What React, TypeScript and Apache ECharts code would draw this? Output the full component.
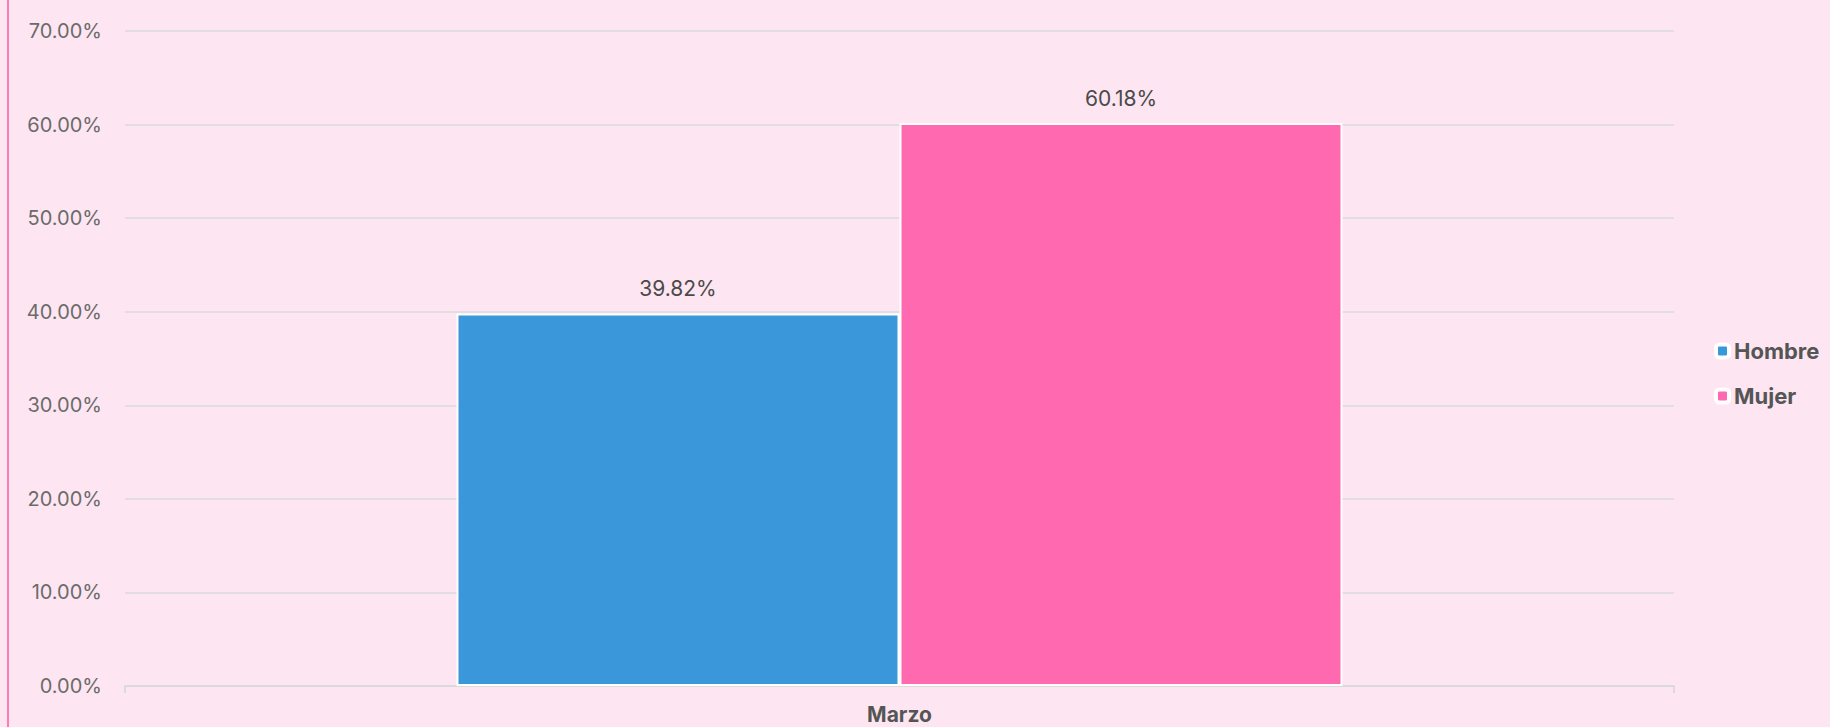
import React, { useEffect, useRef } from "react";
import * as echarts from "echarts";

const categories = ["Marzo"];
const seriesNames = ["Hombre", "Mujer"];
const hombreValues = [39.82];
const mujerValues = [60.18];
const seriesColors = ["#3a98da", "#ff69af"];
const yMin = 0;
const yMax = 70;
const yInterval = 10;

export default function App() {
  const ref = useRef<HTMLDivElement>(null);
  useEffect(() => {
    document.body.style.margin = "0";
    document.body.style.background = "#fde6f1";
    const chart = echarts.init(ref.current!, null, { renderer: "svg" });
    const font = "Inter, 'Noto Sans', sans-serif";
    const values = [hombreValues, mujerValues];
    chart.setOption({
      animation: false,
      backgroundColor: "transparent",
      grid: { left: 125, right: 156, top: 31, bottom: 41, containLabel: false },
      legend: {
        orient: "vertical",
        left: 1714,
        top: 340,
        padding: 0,
        itemGap: 23,
        itemWidth: 13,
        itemHeight: 13,
        icon: "roundRect",
        itemStyle: { borderColor: "#ffffff", borderWidth: 4 },
        textStyle: { color: "#555555", fontSize: 22, fontWeight: "bold", fontFamily: font },
        data: seriesNames,
      },
      xAxis: {
        type: "category",
        data: categories,
        axisLine: { show: true, lineStyle: { color: "#dadada", width: 2 } },
        axisTick: { show: true, length: 7, lineStyle: { color: "#dadada", width: 2 } },
        axisLabel: { color: "#555555", fontSize: 21, fontWeight: "bold", fontFamily: font, margin: 18 },
      },
      yAxis: {
        type: "value",
        min: yMin,
        max: yMax,
        interval: yInterval,
        axisLine: { show: false },
        axisTick: { show: false },
        splitLine: { lineStyle: { color: "#d9d9de", width: 1.5 } },
        axisLabel: {
          color: "#6b6b6b",
          fontSize: 20,
          fontFamily: font,
          margin: 23,
          formatter: (v: number) => v.toFixed(2) + "%",
        },
      },
      series: seriesNames.map((name, i) => ({
        name,
        type: "bar",
        data: values[i],
        barGap: "0%",
        barCategoryGap: "42.8%",
        itemStyle: { color: seriesColors[i], borderColor: "#ffffff", borderWidth: 2 },
        label: {
          show: true,
          position: "top",
          distance: 14,
          color: "#4a4a4a",
          fontSize: 21,
          fontFamily: font,
          formatter: (p: any) => Number(p.value).toFixed(2) + "%",
        },
      })),
    });
    return () => chart.dispose();
  }, []);
  return (
    <div style={{ position: "fixed", left: 0, top: 0, width: 1830, height: 727, background: "#fde6f1" }}>
      <div style={{ position: "absolute", left: 7, top: 0, width: 2, height: 727, background: "#ff7db5" }} />
      <div ref={ref} style={{ position: "absolute", left: 0, top: 0, width: 1830, height: 727 }} />
    </div>
  );
}
